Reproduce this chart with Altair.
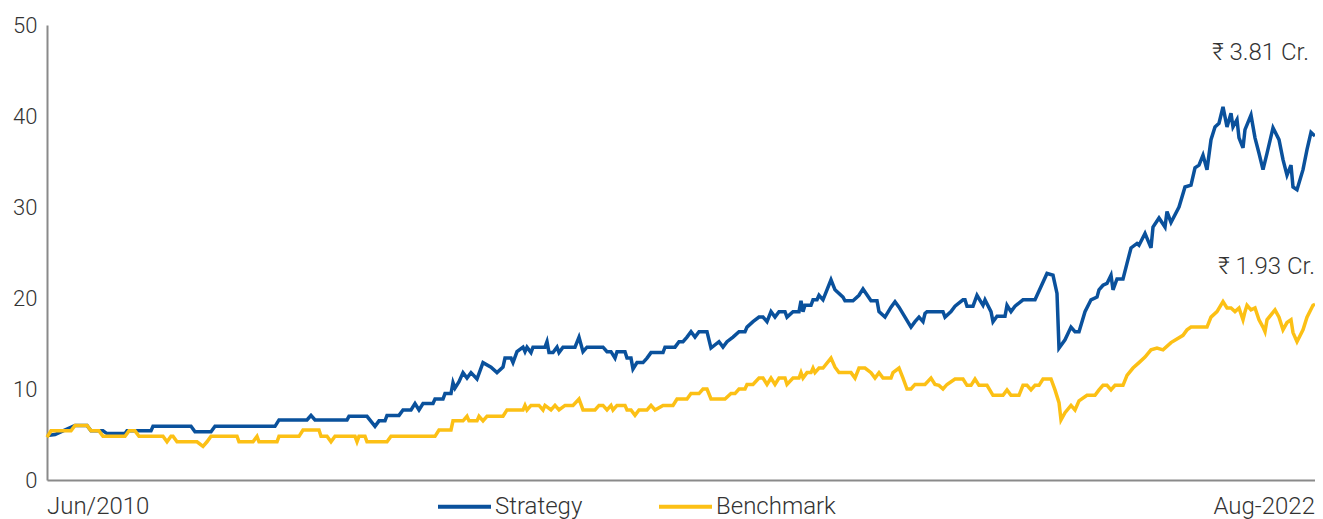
import altair as alt
import pandas as pd

# Weeks since start (Jun 2010) and growth of investment (in lakhs)
strategy_weeks = [0, 4, 8, 14, 20, 22, 28, 30, 39, 40, 52, 53, 72, 74, 82, 84, 114, 116, 130, 132, 134, 150, 151, 160, 164, 166, 169, 170, 176, 178, 182, 184, 186, 188, 193, 194, 198, 199, 202, 203, 204, 206, 208, 210, 212, 215, 218, 222, 225, 228, 229, 232, 233, 235, 238, 239, 240, 242, 243, 249, 250, 251, 253, 255, 256, 258, 264, 266, 268, 270, 278, 280, 282, 284, 285, 289, 290, 292, 293, 295, 298, 300, 302, 308, 309, 314, 316, 318, 320, 322, 324, 326, 330, 332, 336, 338, 340, 343, 346, 349, 350, 353, 356, 358, 360, 362, 364, 366, 369, 370, 373, 376, 377, 378, 379, 382, 383, 385, 386, 388, 392, 394, 398, 399, 403, 406, 408, 412, 415, 416, 419, 422, 424, 426, 429, 432, 434, 436, 438, 439, 440, 448, 449, 452, 454, 458, 459, 460, 463, 465, 468, 469, 472, 473, 475, 479, 480, 482, 484, 488, 494, 500, 503, 505, 506, 509, 512, 514, 516, 519, 522, 525, 526, 528, 530, 532, 533, 535, 538, 540, 542, 545, 546, 549, 552, 553, 556, 559, 560, 562, 566, 569, 572, 574, 576, 578, 580, 582, 584, 586, 588, 590, 592, 593, 595, 596, 598, 599, 602, 604, 606, 608, 610, 613, 616, 618, 620, 622, 623, 625, 628, 630, 632, 634]
strategy_values = [4.9, 5.0, 5.4, 6.0, 6.0, 5.4, 5.4, 5.1, 5.1, 5.4, 5.4, 5.9, 5.9, 5.3, 5.3, 5.9, 5.9, 6.6, 6.6, 7.1, 6.6, 6.6, 7.0, 7.0, 5.9, 6.5, 6.5, 7.1, 7.1, 7.7, 7.7, 8.4, 7.7, 8.4, 8.4, 8.9, 8.9, 9.5, 9.5, 10.7, 10.1, 10.8, 11.8, 11.2, 11.8, 11.1, 12.9, 12.4, 11.8, 12.4, 13.4, 13.4, 12.9, 14.1, 14.6, 14.1, 14.6, 14.0, 14.6, 14.6, 15.2, 14.0, 14.0, 14.6, 14.0, 14.6, 14.6, 15.7, 14.1, 14.6, 14.6, 14.1, 14.1, 13.4, 14.1, 14.1, 13.4, 13.4, 12.2, 12.9, 12.9, 13.4, 14.0, 14.0, 14.6, 14.6, 15.2, 15.2, 15.7, 16.3, 15.7, 16.3, 16.3, 14.5, 15.2, 14.6, 15.2, 15.7, 16.3, 16.3, 16.8, 17.4, 17.9, 17.9, 17.4, 18.5, 17.9, 18.5, 18.5, 17.9, 18.5, 18.5, 19.7, 18.5, 19.2, 19.2, 19.8, 19.8, 20.3, 19.8, 22.0, 20.9, 20.1, 19.7, 19.7, 20.3, 21.0, 19.7, 19.7, 18.5, 17.9, 19.0, 19.6, 19.0, 17.9, 16.8, 17.4, 17.9, 17.4, 18.3, 18.5, 18.5, 17.9, 18.5, 19.1, 19.8, 19.8, 19.1, 19.1, 20.3, 19.2, 19.8, 18.5, 17.4, 18.0, 18.0, 19.2, 18.5, 19.1, 19.8, 19.8, 22.7, 22.5, 20.5, 14.5, 15.4, 16.8, 16.3, 16.3, 18.5, 19.8, 20.1, 20.9, 21.4, 21.6, 22.5, 20.9, 22.1, 22.1, 23.8, 25.5, 26.0, 25.8, 27.1, 25.5, 27.8, 28.8, 27.8, 29.5, 28.3, 30.0, 32.2, 32.4, 34.3, 34.6, 35.7, 34.1, 37.4, 38.8, 39.2, 41.0, 38.8, 40.3, 38.8, 39.6, 37.6, 36.5, 38.5, 40.1, 37.6, 35.9, 34.1, 35.9, 38.7, 37.4, 35.2, 33.5, 34.6, 32.2, 31.9, 34.1, 36.3, 38.2, 37.8]

benchmark_weeks = [0, 2, 12, 14, 20, 22, 26, 28, 39, 41, 44, 46, 58, 60, 62, 63, 65, 75, 78, 80, 82, 95, 96, 103, 105, 106, 115, 116, 126, 128, 136, 137, 140, 142, 144, 154, 155, 156, 159, 160, 170, 172, 194, 196, 202, 203, 208, 210, 211, 215, 216, 218, 220, 228, 230, 238, 239, 240, 242, 246, 248, 249, 252, 254, 256, 259, 263, 266, 268, 274, 276, 278, 280, 282, 283, 285, 289, 290, 292, 294, 296, 300, 302, 304, 308, 313, 315, 320, 322, 326, 328, 330, 332, 339, 342, 344, 346, 349, 350, 353, 356, 358, 360, 362, 364, 366, 369, 370, 373, 376, 377, 378, 380, 382, 383, 384, 386, 388, 392, 394, 396, 402, 404, 406, 409, 412, 414, 416, 418, 422, 423, 426, 428, 430, 432, 434, 439, 442, 444, 446, 448, 450, 454, 458, 460, 462, 464, 466, 470, 473, 478, 480, 482, 486, 488, 490, 492, 494, 496, 498, 502, 504, 506, 507, 509, 512, 514, 516, 520, 524, 526, 528, 530, 532, 534, 538, 540, 543, 546, 549, 552, 555, 558, 562, 568, 570, 572, 580, 582, 585, 588, 590, 592, 594, 596, 598, 599, 600, 602, 604, 606, 608, 609, 610, 614, 616, 618, 620, 622, 623, 625, 628, 630, 633, 634]
benchmark_values = [4.7, 5.4, 5.4, 6.0, 6.0, 5.4, 5.4, 4.8, 4.8, 5.4, 5.4, 4.8, 4.8, 4.2, 4.8, 4.8, 4.2, 4.2, 3.7, 4.2, 4.8, 4.8, 4.2, 4.2, 4.8, 4.2, 4.2, 4.8, 4.8, 5.5, 5.5, 4.8, 4.8, 4.2, 4.8, 4.8, 4.2, 4.8, 4.8, 4.2, 4.2, 4.8, 4.8, 5.5, 5.5, 6.5, 6.5, 7.0, 6.5, 6.5, 7.0, 6.5, 7.0, 7.0, 7.7, 7.7, 8.2, 7.7, 8.2, 8.2, 7.7, 8.2, 7.7, 8.2, 7.7, 8.2, 8.2, 8.9, 7.7, 7.7, 8.2, 8.2, 7.7, 8.2, 7.7, 8.2, 8.2, 7.7, 7.7, 7.1, 7.7, 7.7, 8.2, 7.7, 8.2, 8.2, 8.9, 8.9, 9.5, 9.5, 10.0, 10.0, 8.9, 8.9, 9.5, 9.5, 10.0, 10.0, 10.5, 10.5, 11.2, 11.2, 10.5, 11.2, 10.5, 11.2, 11.2, 10.5, 11.2, 11.2, 11.8, 11.2, 11.8, 11.8, 12.3, 11.8, 12.3, 12.3, 13.4, 12.4, 11.8, 11.8, 11.2, 12.3, 12.3, 11.8, 11.2, 11.8, 11.2, 11.2, 11.8, 12.3, 11.2, 10.0, 10.0, 10.5, 10.5, 11.2, 10.5, 10.4, 10.0, 10.5, 11.1, 11.1, 10.4, 10.4, 11.1, 10.4, 10.4, 9.3, 9.3, 9.9, 9.3, 9.3, 10.4, 10.4, 9.9, 10.4, 10.4, 11.1, 11.1, 9.9, 8.5, 6.6, 7.4, 8.2, 7.7, 8.7, 9.3, 9.3, 9.9, 10.4, 10.4, 9.9, 10.4, 10.4, 11.5, 12.3, 12.9, 13.5, 14.3, 14.5, 14.3, 15.1, 15.9, 16.5, 16.8, 16.8, 17.9, 18.5, 19.6, 18.9, 18.9, 18.5, 18.9, 17.6, 18.5, 19.2, 18.7, 18.9, 17.6, 16.8, 16.3, 17.6, 18.7, 17.9, 16.5, 17.3, 17.6, 16.2, 15.2, 16.5, 17.9, 19.2, 19.3]

series_names = ["Strategy", "Benchmark"]
series_colors = ["#0a519c", "#fcc015"]

end_labels = ["Jun/2010", "Aug-2022"]
annotation_texts = ["₹ 3.81 Cr.", "₹ 1.93 Cr."]
annotation_levels = [46.9, 23.4]

start = pd.Timestamp("2010-06-04")
def to_dates(weeks):
    return [start + pd.Timedelta(weeks=w) for w in weeks]

df = pd.concat([
    pd.DataFrame({"date": to_dates(strategy_weeks), "value": strategy_values, "series": "Strategy"}),
    pd.DataFrame({"date": to_dates(benchmark_weeks), "value": benchmark_values, "series": "Benchmark"}),
])

d0 = to_dates([strategy_weeks[0]])[0]
d1 = to_dates([strategy_weeks[-1]])[0]

FONT = "Roboto"
TXT = "#333333"
BIG = 24

xscale = alt.Scale(domain=[d0.isoformat(), d1.isoformat()], nice=False, padding=0)

lines = alt.Chart(df).mark_line(strokeWidth=3.5, strokeJoin="miter").encode(
    x=alt.X("date:T", scale=xscale,
            axis=alt.Axis(labels=False, ticks=False, grid=False, title=None,
                          domainColor="#8a8a8a", domainWidth=2)),
    y=alt.Y("value:Q", scale=alt.Scale(domain=[0, 50], nice=False),
            axis=alt.Axis(values=[0, 10, 20, 30, 40, 50], ticks=False, grid=False, title=None,
                          domainColor="#8a8a8a", domainWidth=2, labelFontSize=22,
                          labelFont=FONT, labelFontWeight=300, labelColor=TXT, labelPadding=10)),
    color=alt.Color("series:N", scale=alt.Scale(domain=series_names, range=series_colors),
                    sort=series_names,
                    legend=alt.Legend(title=None, orient="none", direction="horizontal",
                                      legendX=389, legendY=453, symbolType="stroke",
                                      symbolSize=2809, symbolStrokeWidth=4, labelFontSize=BIG,
                                      labelFont=FONT, labelFontWeight=300, labelColor=TXT,
                                      labelOffset=2, columnPadding=68, symbolOffset=0)),
)

ends = pd.DataFrame({"date": [d0, d1], "label": end_labels})
left_lab = alt.Chart(ends.iloc[[0]]).mark_text(align="left", baseline="middle", fontSize=BIG,
                                                font=FONT, fontWeight=300, color=TXT).encode(
    x=alt.X("date:T", scale=xscale), y=alt.value(482), text="label:N")
right_lab = alt.Chart(ends.iloc[[1]]).mark_text(align="right", baseline="middle", fontSize=BIG,
                                                 font=FONT, fontWeight=300, color=TXT, dx=0).encode(
    x=alt.X("date:T", scale=xscale), y=alt.value(482), text="label:N")

ann = pd.DataFrame({"date": [d1, d1], "value": annotation_levels, "label": annotation_texts})
ann_a = alt.Chart(ann.iloc[[0]]).mark_text(align="right", baseline="middle", fontSize=BIG,
                                          font=FONT, fontWeight=300, color=TXT, dx=-6).encode(
    x=alt.X("date:T", scale=xscale), y=alt.Y("value:Q"), text="label:N")
ann_b = alt.Chart(ann.iloc[[1]]).mark_text(align="right", baseline="middle", fontSize=BIG,
                                          font=FONT, fontWeight=300, color=TXT, dx=0).encode(
    x=alt.X("date:T", scale=xscale), y=alt.Y("value:Q"), text="label:N")

chart = alt.layer(lines, left_lab, right_lab, ann_a, ann_b).properties(
    width=1268, height=455,
    autosize=alt.AutoSizeParams(type="none"),
    padding={"left": 39, "top": 17, "right": 0, "bottom": 40},
).configure(font=FONT).configure_view(stroke=None)

chart.save("out.html", embed_options={"renderer": "svg", "actions": False})
